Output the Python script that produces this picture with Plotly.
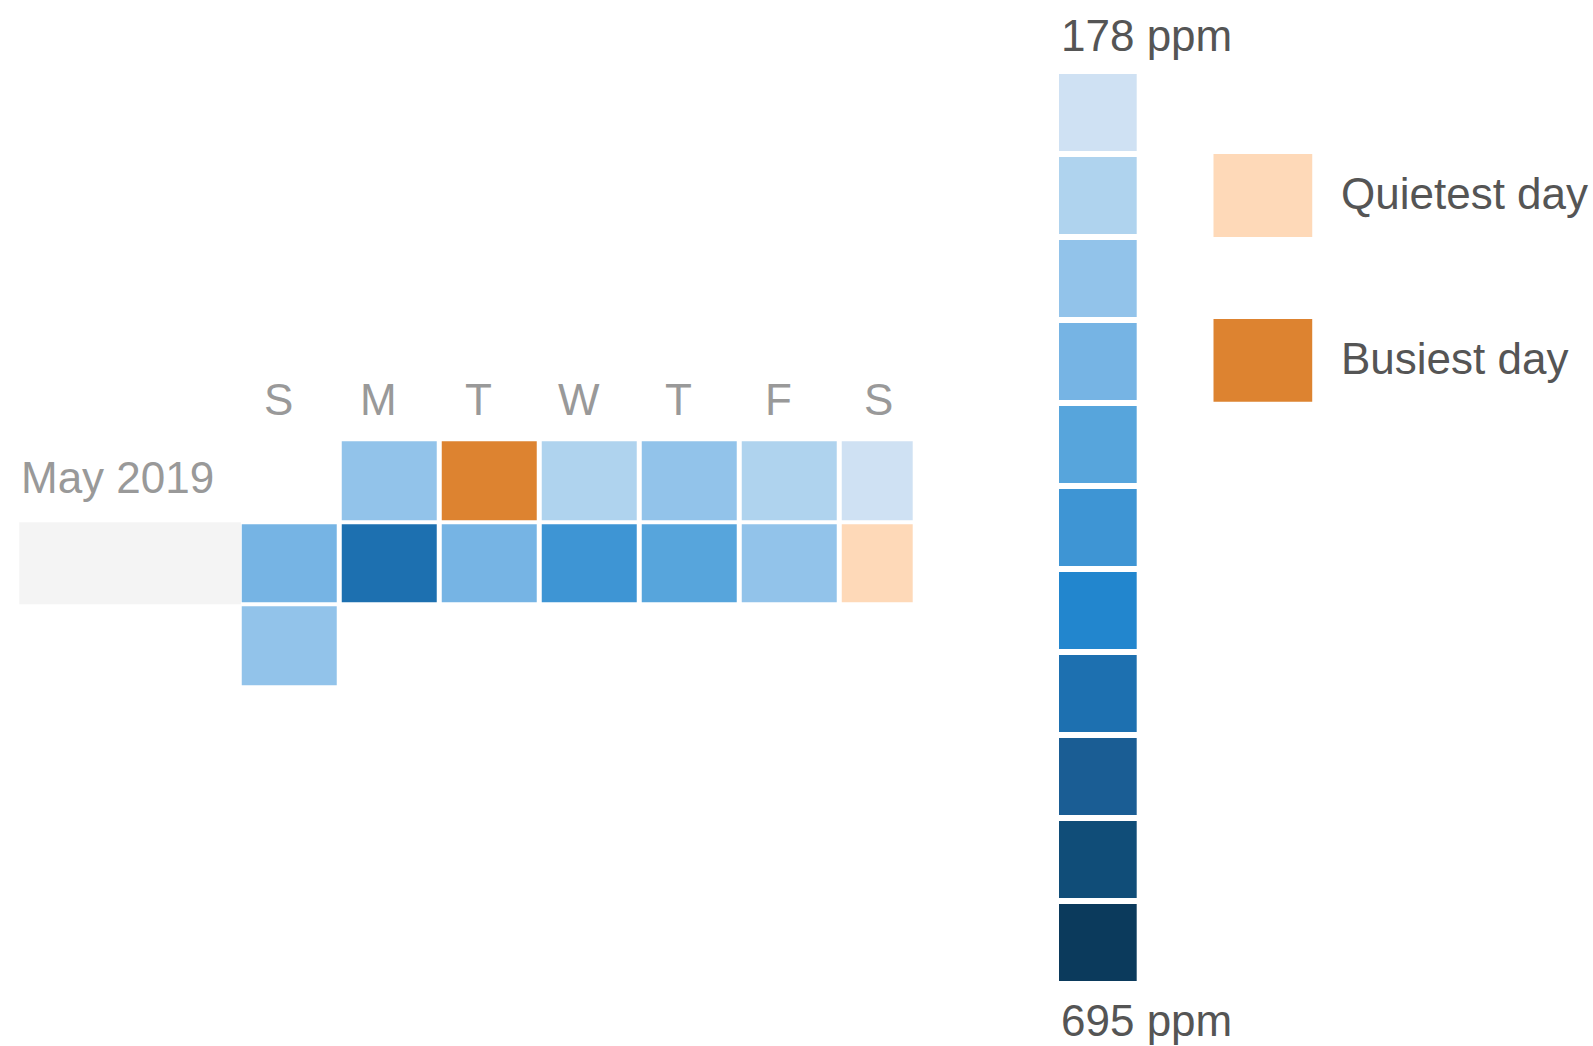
import plotly.graph_objects as go

# ---------------- data ----------------
month_label = "May 2019"
day_labels = ["S", "M", "T", "W", "T", "F", "S"]
dates = ["2019-05-06", "2019-05-07", "2019-05-08", "2019-05-09", "2019-05-10",
         "2019-05-11", "2019-05-12", "2019-05-13", "2019-05-14", "2019-05-15",
         "2019-05-16", "2019-05-17", "2019-05-18", "2019-05-19"]
weekday_idx = [1, 2, 3, 4, 5, 6, 0, 1, 2, 3, 4, 5, 6, 0]   # column (Sun=0)
week_row = [0, 0, 0, 0, 0, 0, 1, 1, 1, 1, 1, 1, 1, 2]      # calendar row
ppm = [300, 695, 255, 290, 245, 205, 345, 540, 335, 440, 390, 300, 178, 285]

scale_min, scale_max = 178, 695
blues = ["#cfe1f3", "#afd3ee", "#92c3ea", "#76b4e4", "#57a5dc", "#3e95d4",
         "#2286ce", "#1d70b0", "#1a5d94", "#104d78", "#0b3a5c"]
quiet_color = "#fed9b8"
busy_color = "#dd8330"
legend_labels = ["Quietest day", "Busiest day"]

# ---------------- figure ----------------
W, H = 1593, 1046


def px(x):
    return x / W


def py(y):
    return 1 - y / H


n_bins = len(blues)
stepped = []
for k, c in enumerate(blues):
    stepped.append([k / n_bins, c])
    stepped.append([(k + 1) / n_bins, c])

i_busy = ppm.index(max(ppm))
i_quiet = ppm.index(min(ppm))

n_rows = max(week_row) + 1
z_main = [[None] * 7 for _ in range(n_rows)]
z_hi = [[None] * 7 for _ in range(n_rows)]
txt = [[""] * 7 for _ in range(n_rows)]
for i, (c, r, v) in enumerate(zip(weekday_idx, week_row, ppm)):
    txt[r][c] = f"{dates[i]}: {v} ppm"
    if i == i_busy:
        z_hi[r][c] = 1
    elif i == i_quiet:
        z_hi[r][c] = 0
    else:
        z_main[r][c] = v

fig = go.Figure()

fig.add_trace(go.Heatmap(
    z=z_main, x=list(range(7)), y=list(range(n_rows)),
    zmin=scale_min, zmax=scale_max, colorscale=stepped, showscale=False,
    xgap=5, ygap=4, text=txt, hoverinfo="text", xaxis="x", yaxis="y"))

fig.add_trace(go.Heatmap(
    z=z_hi, x=list(range(7)), y=list(range(n_rows)),
    zmin=0, zmax=1,
    colorscale=[[0, quiet_color], [0.5, quiet_color], [0.5, busy_color], [1, busy_color]],
    showscale=False, xgap=5, ygap=4, text=txt, hoverinfo="text",
    xaxis="x", yaxis="y"))

# colour-scale legend (11 steps)
step = (scale_max - scale_min) / n_bins
legend_vals = [[scale_min + step * (k + 0.5)] for k in range(n_bins)]
fig.add_trace(go.Heatmap(
    z=legend_vals, x=[0], y=list(range(n_bins)),
    zmin=scale_min, zmax=scale_max, colorscale=stepped, showscale=False,
    ygap=6, hoverinfo="skip", xaxis="x2", yaxis="y2"))

# quiet / busy swatches
fig.add_trace(go.Heatmap(
    z=[[0], [None], [1]], x=[0], y=[0, 1, 2], zmin=0, zmax=1,
    colorscale=[[0, quiet_color], [0.5, quiet_color], [0.5, busy_color], [1, busy_color]],
    showscale=False, hoverinfo="skip", xaxis="x3", yaxis="y3"))

# grey band left of the second week row
fig.add_shape(type="rect", xref="paper", yref="paper",
              x0=px(19.3), x1=px(241), y0=py(604.3), y1=py(522.3),
              fillcolor="#f4f4f4", line=dict(width=0), layer="below")

font = "Liberation Sans, Arial, Helvetica, sans-serif"
ann = []
for i, lab in enumerate(day_labels):
    ann.append(dict(text=lab, xref="x", yref="paper", x=i - 0.11, y=py(400),
                    xanchor="center", yanchor="middle", showarrow=False,
                    font=dict(family=font, size=44, color="#999999")))
ann.append(dict(text=month_label, xref="paper", yref="paper", x=px(19), y=py(478),
                xanchor="left", yanchor="middle", showarrow=False,
                font=dict(family=font, size=44, color="#999999")))
ann.append(dict(text=f"{scale_min} ppm", xref="paper", yref="paper", x=px(1059), y=py(35),
                xanchor="left", yanchor="middle", showarrow=False,
                font=dict(family=font, size=44, color="#555555")))
ann.append(dict(text=f"{scale_max} ppm", xref="paper", yref="paper", x=px(1059), y=py(1020),
                xanchor="left", yanchor="middle", showarrow=False,
                font=dict(family=font, size=44, color="#555555")))
ann.append(dict(text=legend_labels[0], xref="paper", yref="paper", x=px(1339), y=py(193),
                xanchor="left", yanchor="middle", showarrow=False,
                font=dict(family=font, size=44, color="#555555")))
ann.append(dict(text=legend_labels[1], xref="paper", yref="paper", x=px(1339), y=py(358),
                xanchor="left", yanchor="middle", showarrow=False,
                font=dict(family=font, size=44, color="#555555")))

hidden = dict(visible=False, fixedrange=True, showgrid=False, zeroline=False)
cal_left = 239.7   # pixel edge of the first (Sunday) column
cal_pitch = 100.0
cal_right = 912.7
fig.update_layout(
    width=W, height=H, margin=dict(l=0, r=0, t=0, b=0),
    paper_bgcolor="white", plot_bgcolor="white", showlegend=False,
    xaxis=dict(domain=[px(cal_left), px(cal_right)],
               range=[-0.5, (cal_right - cal_left) / cal_pitch - 0.5], **hidden),
    yaxis=dict(domain=[py(687), py(439.2)], range=[n_rows - 0.5, -0.5], **hidden),
    xaxis2=dict(domain=[px(1059), px(1136.7)], range=[-0.5, 0.5], **hidden),
    yaxis2=dict(domain=[py(983.7), py(71)], range=[n_bins - 0.5, -0.5], **hidden),
    xaxis3=dict(domain=[px(1213.3), px(1312.7)], range=[-0.5, 0.5], **hidden),
    yaxis3=dict(domain=[py(401.7), py(154)], range=[2.5, -0.5], **hidden),
    annotations=ann,
)

fig.write_html("out.html", config={"displayModeBar": False},
               post_script="document.body.style.margin='0';document.body.style.overflow='hidden';")
